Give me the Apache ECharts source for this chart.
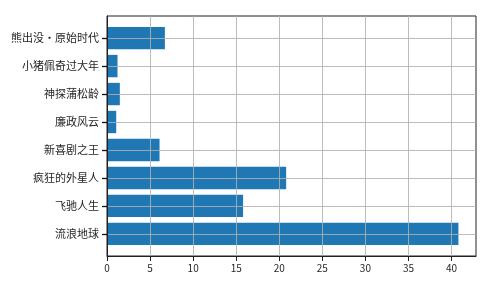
<!DOCTYPE html>
<html>
<head>
<meta charset="utf-8">
<script src="https://cdn.jsdelivr.net/npm/echarts@6/dist/echarts.min.js"></script>
<style>html,body{margin:0;padding:0;background:#fff}#c{width:499px;height:294px}</style>
</head>
<body>
<div id="c"></div>
<script>
const categories = ['流浪地球', '飞驰人生', '疯狂的外星人', '新喜剧之王', '廉政风云', '神探蒲松龄', '小猪佩奇过大年', '熊出没·原始时代'];
const values = [40.8, 15.8, 20.8, 6.1, 1.07, 1.49, 1.22, 6.72];
const xTicks = [0, 5, 10, 15, 20, 25, 30, 35, 40];
const yTicks = [0, 1, 2, 3, 4, 5, 6, 7];

const chart = echarts.init(document.getElementById('c'), null, {renderer: 'canvas'});
const font = '"Noto Sans CJK SC", "DejaVu Sans", sans-serif';
chart.setOption({
  animation: false,
  grid: {left: 107, right: 23, top: 16, bottom: 38, show: true, borderColor: '#222', borderWidth: 1, backgroundColor: 'transparent'},
  xAxis: {
    type: 'value', min: 0, max: 42.84, interval: 5, z: 5,
    axisLine: {show: true, onZero: false, lineStyle: {color: '#222', width: 1}},
    axisTick: {show: true, length: 5, customValues: xTicks, lineStyle: {color: '#222'}},
    axisLabel: {customValues: xTicks, color: '#262626', fontSize: 10, fontFamily: font, margin: 7},
    splitLine: {show: true, lineStyle: {color: '#b0b0b0', width: 1, opacity: 0.85}}
  },
  yAxis: {
    type: 'value', min: -0.79, max: 7.79, splitNumber: 9, z: 5,
    axisLine: {show: true, onZero: false, lineStyle: {color: '#222', width: 1}},
    axisTick: {show: true, length: 5, customValues: yTicks, lineStyle: {color: '#111', width: 1.3}},
    axisLabel: {show: true, customValues: yTicks, color: '#262626', fontSize: 11, fontFamily: font, margin: 8,
      formatter: v => categories[Math.round(v)] || ''},
    splitLine: {show: true, lineStyle: {color: '#b0b0b0', width: 1, opacity: 0.85}}
  },
  series: [{
    type: 'custom', z: 1,
    data: values.map((v, i) => [v, i]),
    encode: {x: 0, y: 1},
    renderItem: function (params, api) {
      const v = api.value(0), i = api.value(1);
      const p0 = api.coord([0, i]);
      const p1 = api.coord([v, i]);
      const h = api.size([0, 0.8])[1];
      return {
        type: 'rect',
        shape: {x: p0[0], y: p0[1] - h / 2, width: p1[0] - p0[0], height: h},
        style: {fill: '#1f77b4'}
      };
    }
  }]
});
</script>
</body>
</html>
